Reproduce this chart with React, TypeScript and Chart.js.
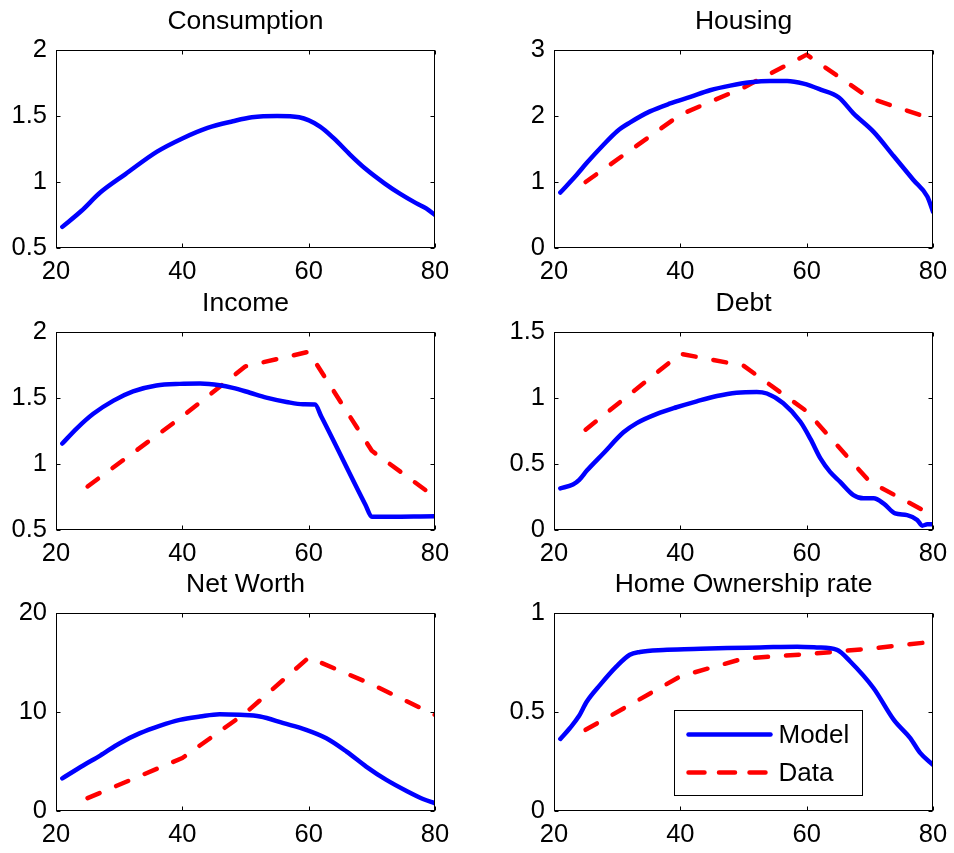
import React, { useEffect, useRef } from "react";
import { Chart, registerables } from "chart.js";

Chart.register(...registerables);

const FONT = '"Liberation Sans", Arial, Helvetica, sans-serif';

// ---------------- data ----------------
const xTicks = [20, 40, 60, 80];
const dataAges = [25, 40, 50, 60, 70, 80];

const consumptionModelAges = [21, 24, 27, 31, 36, 40, 44, 48, 51, 55, 58.5, 61.8, 64, 66.5, 69, 72, 74.5, 77, 78.6, 80];
const consumptionModel = [0.66, 0.78, 0.92, 1.06, 1.23, 1.33, 1.41, 1.46, 1.49, 1.5, 1.49, 1.42, 1.33, 1.21, 1.1, 0.99, 0.91, 0.84, 0.8, 0.75];

const housingModelAges = [21, 23.6, 25.2, 27.8, 30, 32, 35.2, 38.4, 41.6, 44.7, 47.9, 51.1, 54.2, 56.9, 59.5, 62.2, 65.1, 67.4, 70.6, 73.8, 76.9, 79.1, 80];
const housingModel = [0.84, 1.11, 1.29, 1.56, 1.77, 1.9, 2.07, 2.19, 2.29, 2.39, 2.46, 2.51, 2.53, 2.53, 2.49, 2.4, 2.28, 2.04, 1.76, 1.39, 1.03, 0.78, 0.55];
const housingData = [1.0, 2.02, 2.43, 2.93, 2.27, 1.95];

const incomeModelAges = [21, 23.3, 25.9, 29.1, 32.2, 35.9, 39.6, 42.8, 45.9, 48, 50.7, 53.3, 56.5, 59.1, 61, 62, 69, 70, 80];
const incomeModel = [1.155, 1.27, 1.38, 1.48, 1.55, 1.595, 1.607, 1.609, 1.597, 1.577, 1.54, 1.503, 1.47, 1.452, 1.45, 1.36, 0.69, 0.6, 0.605];
const incomeData = [0.83, 1.36, 1.74, 1.85, 1.1, 0.75];

const debtModelAges = [21, 23, 24, 25.2, 27.8, 31, 33.1, 36.3, 39.4, 42.6, 45.8, 48.9, 52.1, 53.7, 56.3, 59, 60.6, 62.2, 63.7, 65.3, 67.4, 69, 70.6, 72.2, 74, 75.9, 77.5, 78.3, 79.1, 80];
const debtModel = [0.315, 0.345, 0.38, 0.45, 0.58, 0.74, 0.81, 0.88, 0.93, 0.975, 1.015, 1.04, 1.046, 1.034, 0.96, 0.82, 0.69, 0.54, 0.44, 0.365, 0.265, 0.24, 0.24, 0.2, 0.126, 0.113, 0.076, 0.033, 0.043, 0.043];
const debtData = [0.76, 1.335, 1.245, 0.9, 0.365, 0.11];

const netWorthModelAges = [21, 24.3, 27, 30.1, 33.3, 36.4, 39.6, 42.8, 45.9, 49.1, 52.3, 56, 59.6, 62.8, 66, 69.1, 72.3, 75.5, 78.1, 80];
const netWorthModel = [3.3, 4.6, 5.6, 6.85, 7.86, 8.6, 9.2, 9.54, 9.78, 9.71, 9.54, 8.87, 8.2, 7.35, 6.0, 4.49, 3.14, 2.02, 1.21, 0.78];
const netWorthData = [1.3, 5.35, 9.9, 15.5, 12.8, 9.7];

const ownershipModelAges = [21, 22.5, 23.9, 25.2, 27.3, 29.9, 32, 33.6, 37.3, 42.1, 47.4, 52.6, 58.5, 61.6, 64.8, 66.9, 70.6, 73.8, 76.4, 78, 80];
const ownershipModel = [0.364, 0.418, 0.477, 0.553, 0.637, 0.73, 0.789, 0.803, 0.813, 0.818, 0.823, 0.826, 0.83, 0.826, 0.814, 0.755, 0.62, 0.46, 0.368, 0.292, 0.233];
const ownershipData = [0.41, 0.68, 0.77, 0.792, 0.82, 0.855];

const titles = ["Consumption", "Housing", "Income", "Debt", "Net Worth", "Home Ownership rate"];
const yRanges: [number, number, number][] = [
  [0.5, 2, 0.5],
  [0, 3, 1],
  [0.5, 2, 0.5],
  [0, 1.5, 0.5],
  [0, 20, 10],
  [0, 1, 0.5],
];
const seriesLabels = ["Model", "Data"];

// ---------------- layout / style ----------------
const PLOT_W = 379;
const PLOT_H = 198;
const AXIS_W = 56;
const AXIS_H = 40;
const PAD_TOP = 50;
const PAD_RIGHT = 19;
const CANVAS_W = AXIS_W + PLOT_W + PAD_RIGHT;
const CANVAS_H = PAD_TOP + PLOT_H + AXIS_H;
const colLeft = [0, 498];
const rowTop = [0, 282, 563];

const BLUE = "#0000ff";
const RED = "#ff0000";
const LINE_W = 4.5;
const PLOT_DASH = [13, 18];
const LEGEND_DASH = [16, 14.5];

type PanelDef = {
  title: string;
  range: [number, number, number];
  modelAges: number[];
  model: number[];
  data?: number[];
  legend?: boolean;
};

const panels: PanelDef[] = [
  { title: titles[0], range: yRanges[0], modelAges: consumptionModelAges, model: consumptionModel },
  { title: titles[1], range: yRanges[1], modelAges: housingModelAges, model: housingModel, data: housingData },
  { title: titles[2], range: yRanges[2], modelAges: incomeModelAges, model: incomeModel, data: incomeData },
  { title: titles[3], range: yRanges[3], modelAges: debtModelAges, model: debtModel, data: debtData },
  { title: titles[4], range: yRanges[4], modelAges: netWorthModelAges, model: netWorthModel, data: netWorthData },
  { title: titles[5], range: yRanges[5], modelAges: ownershipModelAges, model: ownershipModel, data: ownershipData, legend: true },
];

const framePlugin = {
  id: "matlabFrame",
  afterDraw(chart: any, _args: any, opts: any) {
    const { ctx, chartArea: a, scales } = chart;
    const L = Math.round(a.left) + 0.5;
    const R = Math.round(a.right) - 0.5;
    const T = Math.round(a.top) + 0.5;
    const B = Math.round(a.bottom) - 0.5;
    ctx.save();
    ctx.strokeStyle = "#000";
    ctx.lineWidth = 1;
    ctx.strokeRect(L, T, R - L, B - T);
    const tl = 4;
    ctx.beginPath();
    scales.x.ticks.forEach((t: any) => {
      const px = Math.round(scales.x.getPixelForValue(t.value)) + 0.5;
      ctx.moveTo(px, B);
      ctx.lineTo(px, B - tl);
      ctx.moveTo(px, T);
      ctx.lineTo(px, T + tl);
    });
    scales.y.ticks.forEach((t: any) => {
      const py = Math.round(scales.y.getPixelForValue(t.value)) + 0.5;
      ctx.moveTo(L, py);
      ctx.lineTo(L + tl, py);
      ctx.moveTo(R, py);
      ctx.lineTo(R - tl, py);
    });
    ctx.stroke();

    // title
    ctx.fillStyle = "#000";
    ctx.font = `26.5px ${FONT}`;
    ctx.textAlign = "center";
    ctx.textBaseline = "alphabetic";
    ctx.fillText(opts.title, (a.left + a.right) / 2, a.top - 21.5);

    // legend
    if (opts.legend) {
      const bw = 188;
      const bh = 85;
      const bx = Math.round(a.right - 71 - bw) + 0.5;
      const by = Math.round(a.bottom - 16 - bh) + 0.5;
      ctx.fillStyle = "#fff";
      ctx.fillRect(bx, by, bw, bh);
      ctx.strokeStyle = "#000";
      ctx.lineWidth = 1;
      ctx.strokeRect(bx, by, bw, bh);
      const ds = chart.data.datasets;
      ds.forEach((d: any, i: number) => {
        const yy = by + 24 + i * 38;
        const dashed = d.borderDash && d.borderDash.length;
        ctx.save();
        ctx.strokeStyle = d.borderColor;
        ctx.lineWidth = d.borderWidth;
        ctx.lineCap = "round";
        ctx.setLineDash(dashed ? LEGEND_DASH : []);
        ctx.beginPath();
        ctx.moveTo(bx + 14, yy);
        ctx.lineTo(bx + 96, yy);
        ctx.stroke();
        ctx.restore();
        ctx.fillStyle = "#000";
        ctx.font = `26px ${FONT}`;
        ctx.textAlign = "left";
        ctx.textBaseline = "middle";
        ctx.fillText(d.label, bx + 104, yy + 1);
      });
    }
    ctx.restore();
  },
};

function fmt(v: number) {
  return String(Math.round(v * 100) / 100);
}

function Panel({ def, left, top }: { def: PanelDef; left: number; top: number }) {
  const ref = useRef<HTMLCanvasElement | null>(null);
  useEffect(() => {
    if (!ref.current) return;
    const datasets: any[] = [
      {
        label: seriesLabels[0],
        data: def.modelAges.map((x, i) => ({ x, y: def.model[i] })),
        borderColor: BLUE,
        backgroundColor: BLUE,
        borderWidth: LINE_W,
        pointRadius: 0,
        cubicInterpolationMode: "monotone",
        borderJoinStyle: "round",
        borderCapStyle: "round",
        clip: 0,
      },
    ];
    if (def.data) {
      datasets.push({
        label: seriesLabels[1],
        data: dataAges.map((x, i) => ({ x, y: (def.data as number[])[i] })),
        borderColor: RED,
        backgroundColor: RED,
        borderWidth: LINE_W,
        borderDash: PLOT_DASH,
        borderCapStyle: "round",
        borderJoinStyle: "round",
        pointRadius: 0,
        tension: 0,
        clip: 0,
      });
    }
    const [ymin, ymax, ystep] = def.range;
    const tickFont = { family: FONT, size: 25.5 };
    const chart = new Chart(ref.current, {
      type: "line",
      data: { datasets },
      options: {
        responsive: false,
        animation: false,
        devicePixelRatio: 1,
        events: [],
        layout: { padding: { top: PAD_TOP, right: PAD_RIGHT, left: 0, bottom: 0 } },
        plugins: {
          legend: { display: false },
          title: { display: false },
          tooltip: { enabled: false },
          matlabFrame: { title: def.title, legend: !!def.legend },
        } as any,
        scales: {
          x: {
            type: "linear",
            min: xTicks[0],
            max: xTicks[xTicks.length - 1],
            afterBuildTicks: (s: any) => {
              s.ticks = xTicks.map((v) => ({ value: v }));
            },
            ticks: { padding: 9, font: tickFont, color: "#000", maxRotation: 0, autoSkip: false, callback: (v: any) => fmt(Number(v)) },
            grid: { display: false, drawTicks: false },
            border: { display: false },
            afterFit: (s: any) => {
              s.height = AXIS_H;
              s.paddingLeft = 0;
              s.paddingRight = 0;
            },
          },
          y: {
            type: "linear",
            min: ymin,
            max: ymax,
            ticks: { stepSize: ystep, padding: 9, font: tickFont, color: "#000", callback: (v: any) => fmt(Number(v)) },
            grid: { display: false, drawTicks: false },
            border: { display: false },
            afterFit: (s: any) => {
              s.width = AXIS_W;
              s.paddingTop = 0;
              s.paddingBottom = 0;
            },
          },
        },
      } as any,
      plugins: [framePlugin as any],
    });
    return () => chart.destroy();
  }, [def]);
  return (
    <canvas
      ref={ref}
      width={CANVAS_W}
      height={CANVAS_H}
      style={{ position: "absolute", left, top, width: CANVAS_W, height: CANVAS_H }}
    />
  );
}

export default function App() {
  return (
    <div style={{ position: "absolute", left: 0, top: 0, width: 954, height: 853, background: "#fff", overflow: "hidden" }}>
      {panels.map((p, i) => (
        <Panel key={i} def={p} left={colLeft[i % 2]} top={rowTop[Math.floor(i / 2)]} />
      ))}
    </div>
  );
}
